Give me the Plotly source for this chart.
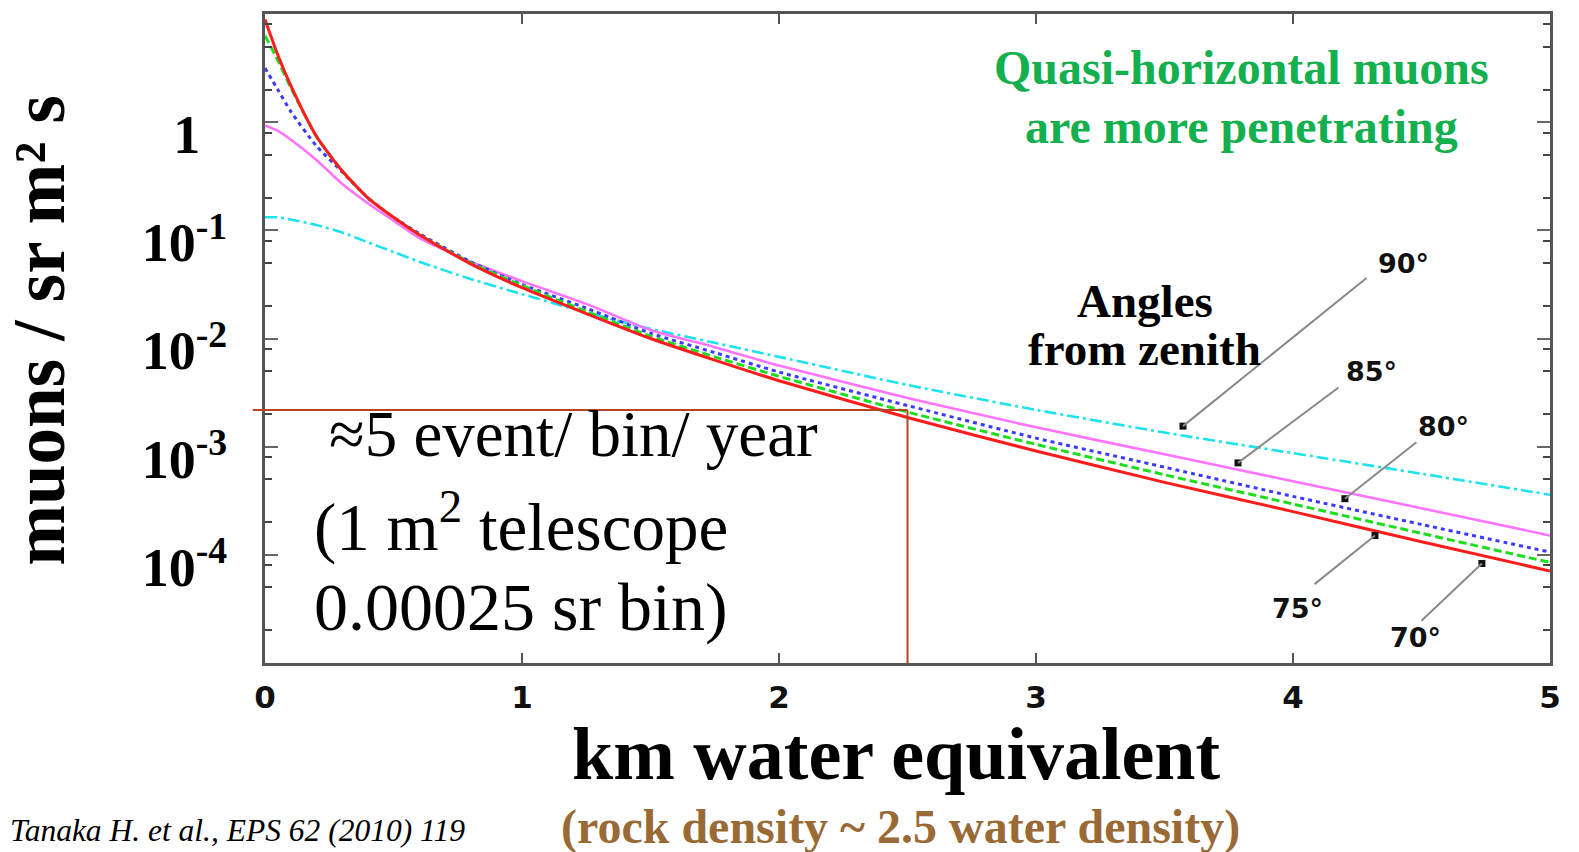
import plotly.graph_objects as go

# ---------------- data ----------------
depth_km = [0.0, 0.05, 0.1, 0.2, 0.3, 0.4, 0.5, 0.6, 0.8, 1.0,
            1.25, 1.5, 1.75, 2.0, 2.5, 3.0, 3.5, 4.0, 4.5, 5.0]

flux_70 = [8.91, 4.17, 2.19, 0.741, 0.355, 0.200, 0.132, 0.0912, 0.0490, 0.0295,
           0.0170, 0.0100, 6.31e-3, 4.07e-3, 1.86e-3, 9.12e-4, 4.68e-4, 2.51e-4, 1.32e-4, 7.08e-5]
flux_75 = [6.31, 3.72, 2.09, 0.741, 0.355, 0.200, 0.132, 0.0912, 0.0501, 0.0309,
           0.0178, 0.0105, 6.76e-3, 4.47e-3, 2.09e-3, 1.05e-3, 5.50e-4, 2.95e-4, 1.58e-4, 8.51e-5]
flux_80 = [3.16, 2.00, 1.26, 0.603, 0.347, 0.200, 0.132, 0.0933, 0.0513, 0.0316,
           0.0191, 0.0112, 7.41e-3, 4.90e-3, 2.40e-3, 1.20e-3, 6.46e-4, 3.47e-4, 1.91e-4, 1.06e-4]
flux_85 = [0.933, 0.832, 0.692, 0.447, 0.269, 0.178, 0.123, 0.0851, 0.0513, 0.0339,
           0.0209, 0.0120, 8.32e-3, 5.62e-3, 2.82e-3, 1.51e-3, 8.51e-4, 4.79e-4, 2.69e-4, 1.51e-4]
flux_90 = [0.132, 0.132, 0.126, 0.112, 0.0955, 0.0776, 0.0631, 0.0513, 0.0355, 0.0257,
           0.0174, 0.0123, 9.12e-3, 6.76e-3, 3.72e-3, 2.19e-3, 1.35e-3, 8.71e-4, 5.62e-4, 3.59e-4]

angle_labels = ["90°", "85°", "80°", "75°", "70°"]
# label position (x km, log10 flux) ; pointer start ; pointer end on curve
label_x = [4.428, 4.307, 4.584, 4.016, 4.475]
label_logy = [-1.310, -2.304, -2.810, -4.494, -4.761]
ptr_x0 = [4.292, 4.183, 4.486, 4.078, 4.494]
ptr_logy0 = [-1.429, -2.442, -2.948, -4.282, -4.622]
ptr_x1 = [3.572, 3.786, 4.202, 4.319, 4.735]
ptr_logy1 = [-2.810, -3.150, -3.481, -3.822, -4.080]

depth_threshold = 2.5      # km w.e.
rate_threshold = 2.18e-3   # muons / sr m^2 s  (~5 events/bin/year)

x_ticks = [0, 1, 2, 3, 4, 5]
x_ticktext = ["0", "1", "2", "3", "4", "5"]
y_ticks = [1, 1e-1, 1e-2, 1e-3, 1e-4]
y_ticktext = ["1\u00a0\u00a0", "10<sup>-1</sup>", "10<sup>-2</sup>",
              "10<sup>-3</sup>", "10<sup>-4</sup>"]
y_minor = [m * 10.0 ** k for k in range(-5, 1) for m in (2, 5, 8)]

# ---------------- figure ----------------
SERIF = "Liberation Serif, Times New Roman, serif"
SANS = "DejaVu Sans, Arial, sans-serif"

fig = go.Figure()

series = [
    (flux_90, "90°", "#1ee3ee", "12px,4px,3px,4px", 2.6),
    (flux_85, "85°", "#ff74ff", "solid", 2.6),
    (flux_80, "80°", "#3b3bff", "4px,4px", 3),
    (flux_75, "75°", "#1edc1e", "8px,4px", 3),
    (flux_70, "70°", "#ff1c1c", "solid", 3),
]
for ys, name, col, dash, w in series:
    fig.add_trace(go.Scatter(x=depth_km, y=ys, mode="lines", name=name,
                             line=dict(color=col, dash=dash, width=w, shape="spline",
                                       smoothing=0.6)))

# threshold lines
fig.add_trace(go.Scatter(x=[depth_threshold, depth_threshold], y=[rate_threshold, 1e-5],
                         mode="lines", line=dict(color="#b5451f", width=2),
                         showlegend=False))
fig.add_shape(type="line", xref="paper", yref="y", x0=-0.0095, x1=depth_threshold / 5,
              y0=rate_threshold, y1=rate_threshold, line=dict(color="#b5451f", width=2))

# pointer squares
fig.add_trace(go.Scatter(x=ptr_x1, y=[10 ** v for v in ptr_logy1], mode="markers",
                         marker=dict(symbol="square", size=7, color="#111111"),
                         showlegend=False))

annotations = []
for lab, lx, ly, x0, y0, x1, y1 in zip(angle_labels, label_x, label_logy,
                                       ptr_x0, ptr_logy0, ptr_x1, ptr_logy1):
    annotations.append(dict(x=x1, y=y1, ax=x0, ay=y0, xref="x", yref="y",
                            axref="x", ayref="y", text="", showarrow=True,
                            arrowhead=0, arrowwidth=2, arrowcolor="#8a8a8a"))
    annotations.append(dict(x=lx, y=ly, xref="x", yref="y", text="<b>" + lab + "</b>",
                            showarrow=False, font=dict(family=SANS, size=27, color="#111")))

def pa(text, x, y, size, color="black", family=SERIF, xanchor="center", angle=0):
    annotations.append(dict(text=text, x=x, y=y, xref="paper", yref="paper",
                            xanchor=xanchor, yanchor="middle", showarrow=False,
                            textangle=angle, font=dict(family=family, size=size, color=color)))

pa("<b>km water equivalent</b>", 0.4918, -0.1405, 74)
pa("<b>(rock density ~ 2.5 water density)</b>", 0.4949, -0.2531, 48, color="#9a6a36")
pa("<i>Tanaka H. et al., EPS 62 (2010) 119</i>", -0.2, -0.2577, 31.5, xanchor="left")
pa("<b>muons / sr m² s</b>", -0.175, 0.512, 73, angle=-90)
pa("<b>Quasi-horizontal muons</b>", 0.7603, 0.9172, 48, color="#14b04f")
pa("<b>are more penetrating</b>", 0.7603, 0.8267, 48, color="#14b04f")
pa("<b>Angles</b>", 0.6848, 0.5583, 47)
pa("<b>from zenith</b>", 0.6848, 0.4831, 47)
pa("≈5 event/ bin/ year", 0.0482, 0.3528, 65, xanchor="left")
pa("(1 m<sup>2</sup> telescope", 0.0366, 0.2163, 67, xanchor="left")
pa("0.00025 sr bin)", 0.0366, 0.0859, 68, xanchor="left")

fig.update_layout(
    width=1579, height=852,
    margin=dict(l=265, r=29, t=11, b=189),
    paper_bgcolor="white", plot_bgcolor="white",
    showlegend=False,
    annotations=annotations,
)
fig.update_xaxes(range=[0, 5], showgrid=False, zeroline=False,
                 showline=True, linecolor="#555555", linewidth=3, mirror="ticks",
                 ticks="inside", ticklen=10, tickwidth=2, tickcolor="#555555",
                 tickvals=x_ticks, ticktext=x_ticktext, ticklabelstandoff=5,
                 tickfont=dict(family=SANS, size=31, color="#111", weight="bold"))
fig.update_yaxes(type="log", range=[-5, 1], showgrid=False, zeroline=False,
                 showline=True, linecolor="#555555", linewidth=3, mirror="ticks",
                 ticks="inside", ticklen=13, tickwidth=2, tickcolor="#666666",
                 tickvals=y_ticks, ticktext=y_ticktext, ticklabelstandoff=24,
                 ticklabelshift=12,
                 tickfont=dict(family=SERIF, size=54, color="black", weight="bold"),
                 minor=dict(tickvals=y_minor, ticks="inside", ticklen=7, tickwidth=2,
                            tickcolor="#444444"))

fig.write_html("out.html")
